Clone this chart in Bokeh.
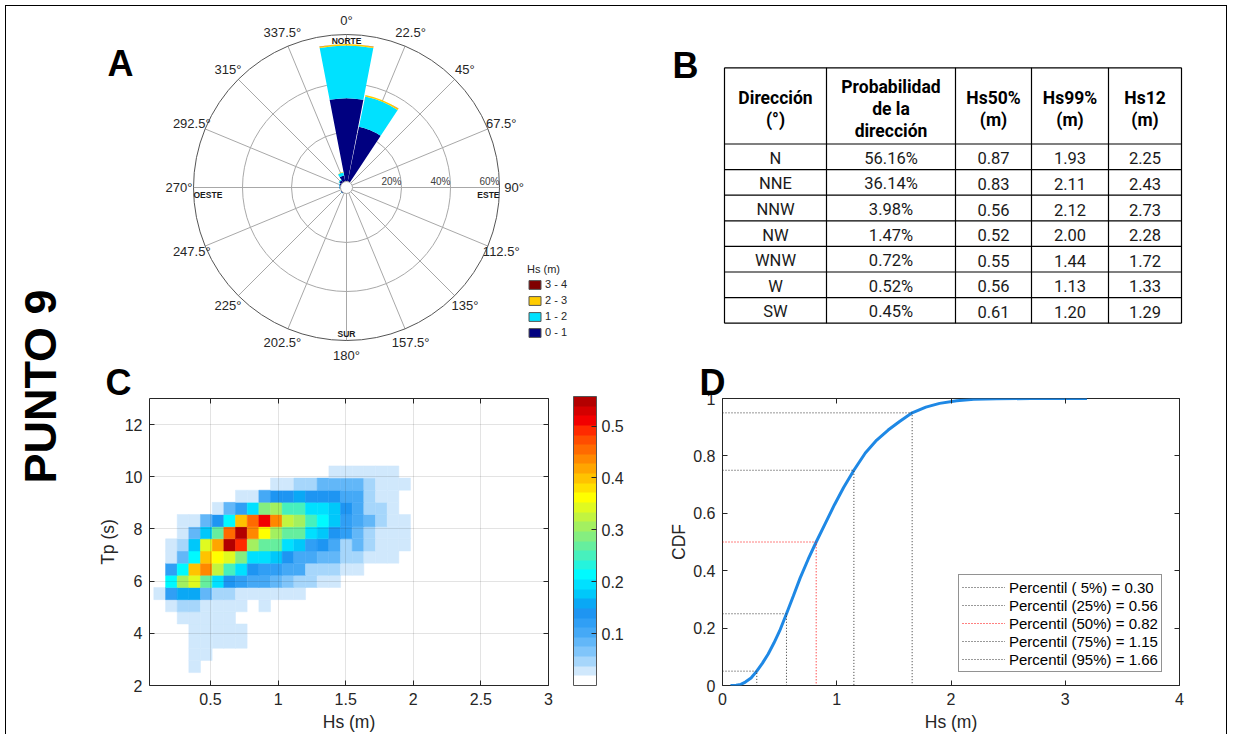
import math
from bokeh.plotting import figure
from bokeh.models import (Range1d, LinearAxis, ColorBar, LinearColorMapper, FixedTicker,
                          PrintfTickFormatter, Legend, LegendItem, Label, ColumnDataSource)
from bokeh.layouts import row, column
from bokeh.embed import file_html
from bokeh.resources import INLINE
from bokeh.core.properties import value

MFONT = "Liberation Sans"
TFONT = "Roboto"
INK = "#262626"

# ------------------------------------------------------------------ data
# A: wave rose, % of time per direction and Hs class
rose_dirs = ["N", "NNE", "NNW", "NW", "WNW", "W", "SW"]
rose_deg = [0.0, 22.5, 337.5, 315.0, 292.5, 270.0, 225.0]
rose_bins = ["0 - 1", "1 - 2", "2 - 3", "3 - 4"]
rose_hs_0_1 = [34.0, 22.9, 2.60, 1.10, 0.55, 0.40, 0.33]
rose_hs_1_2 = [21.5, 12.6, 1.25, 0.35, 0.17, 0.12, 0.12]
rose_hs_2_3 = [0.60, 0.60, 0.12, 0.02, 0.0, 0.0, 0.0]
rose_hs_3_4 = [0.06, 0.04, 0.01, 0.0, 0.0, 0.0, 0.0]
rose_bin_colors = ["#000080", "#00E1FF", "#FFCC00", "#800000"]
rose_rings = [20, 40, 60]
rose_ring_labels = ["20%", "40%", "60%"]
rose_tick_deg = [0, 22.5, 45, 67.5, 90, 112.5, 135, 157.5, 180, 202.5, 225, 247.5, 270, 292.5, 315, 337.5]
rose_tick_labels = ["0°", "22.5°", "45°", "67.5°", "90°", "112.5°", "135°", "157.5°", "180°",
                    "202.5°", "225°", "247.5°", "270°", "292.5°", "315°", "337.5°"]
rose_cardinals = ["NORTE", "ESTE", "SUR", "OESTE"]

# B: table
tbl_header = [["Dirección", "(°)"], ["Probabilidad", "de la", "dirección"],
              ["Hs50%", "(m)"], ["Hs99%", "(m)"], ["Hs12", "(m)"]]
tbl_dir = ["N", "NNE", "NNW", "NW", "WNW", "W", "SW"]
tbl_prob = [56.16, 36.14, 3.98, 1.47, 0.72, 0.52, 0.45]
tbl_hs50 = [0.87, 0.83, 0.56, 0.52, 0.55, 0.56, 0.61]
tbl_hs99 = [1.93, 2.11, 2.12, 2.00, 1.44, 1.13, 1.20]
tbl_hs12 = [2.25, 2.43, 2.73, 2.28, 1.72, 1.33, 1.29]

# C: joint Hs-Tp probability (%)
hm_hs = [0.124, 0.211, 0.297, 0.383, 0.469, 0.556, 0.642, 0.728, 0.815, 0.901, 0.987,
         1.073, 1.160, 1.246, 1.332, 1.419, 1.505, 1.591, 1.677, 1.764, 1.850, 1.936]
hm_tp = [2.728, 3.194, 3.660, 4.126, 4.592, 5.058, 5.524, 5.990, 6.456, 6.922, 7.388,
         7.854, 8.320, 8.786, 9.252, 9.718, 10.184]
hm_dhs = 0.0863
hm_dtp = 0.466
hm_prob = [
    [0, 0, 0, .028, 0, 0, 0, 0, 0, 0, 0, 0, 0, 0, 0, 0, 0, 0, 0, 0, 0, 0],
    [0, 0, 0, .028, .028, 0, 0, 0, 0, 0, 0, 0, 0, 0, 0, 0, 0, 0, 0, 0, 0, 0],
    [0, 0, 0, .028, .028, .028, .028, .028, 0, 0, 0, 0, 0, 0, 0, 0, 0, 0, 0, 0, 0, 0],
    [0, 0, 0, .028, .028, .028, .028, .028, 0, 0, 0, 0, 0, 0, 0, 0, 0, 0, 0, 0, 0, 0],
    [0, 0, .028, .028, .028, .028, .028, 0, 0, 0, 0, 0, 0, 0, 0, 0, 0, 0, 0, 0, 0, 0],
    [0, .028, .046, .046, .028, .028, .028, .028, 0, .028, 0, 0, 0, 0, 0, 0, 0, 0, 0, 0, 0, 0],
    [.028, .121, .158, .158, .084, .046, .046, .028, .028, .028, .028, .028, .028, 0, 0, 0, 0, 0, 0, 0, 0, 0],
    [0, .214, .306, .343, .269, .195, .139, .121, .102, .102, .084, .065, .046, .046, .028, .028, 0, 0, 0, 0, 0, 0],
    [0, .121, .214, .399, .436, .325, .251, .195, .139, .121, .121, .102, .102, .046, .046, .046, .028, .028, 0, 0, 0, 0],
    [0, .028, .084, .214, .399, .362, .343, .288, .195, .195, .176, .139, .102, .102, .084, .084, .046, .046, .028, .028, .028, 0],
    [0, .028, .046, .176, .343, .418, .550, .492, .306, .269, .269, .195, .176, .121, .139, .102, .046, .084, .046, .028, .028, .028],
    [0, 0, .028, .084, .176, .269, .455, .557, .436, .362, .306, .269, .269, .195, .176, .139, .121, .084, .046, .028, .028, .028],
    [0, 0, .028, .028, .084, .139, .214, .399, .455, .511, .436, .325, .306, .251, .214, .176, .121, .102, .084, .046, .028, .028],
    [0, 0, 0, 0, 0, .028, .084, .121, .195, .288, .306, .251, .251, .195, .195, .176, .139, .102, .046, .046, .028, 0],
    [0, 0, 0, 0, 0, 0, 0, .028, .028, .102, .139, .139, .158, .139, .139, .139, .102, .102, .046, .028, .028, 0],
    [0, 0, 0, 0, 0, 0, 0, 0, 0, 0, .028, .028, .046, .046, .084, .084, .084, .084, .046, .028, .028, .028],
    [0, 0, 0, 0, 0, 0, 0, 0, 0, 0, 0, 0, 0, 0, 0, .028, .028, .028, .028, .028, .028, 0],
]
hm_max = 0.557
hm_palette = ["#FFFFFF", "#D0E8FC", "#A6D6FB", "#80C5FA", "#62B7F8", "#45A9F6", "#309FF5",
              "#1E95F2", "#0AA8F5", "#00C8FA", "#00E0FF", "#00FAFF", "#25F4DD", "#47F0BD",
              "#66EE9E", "#85EE80", "#A3F060", "#C2F440", "#E0FA20", "#FFFF00", "#FFE000",
              "#FFC300", "#FFA500", "#FF8800", "#FF6A00", "#FF4D00", "#FF2A00", "#F20000",
              "#D40000", "#B30000"]
hm_cb_ticks = [0.1, 0.2, 0.3, 0.4, 0.5]

# D: empirical CDF of Hs
cdf_hs = [0.07, 0.12, 0.16, 0.20, 0.25, 0.30, 0.35, 0.40, 0.45, 0.50, 0.56, 0.62, 0.68, 0.75,
          0.82, 0.90, 0.98, 1.06, 1.15, 1.25, 1.35, 1.45, 1.55, 1.66, 1.78, 1.90, 2.05, 2.20,
          2.40, 2.70, 3.00, 3.19]
cdf_f = [0.0, 0.001, 0.004, 0.012, 0.026, 0.05, 0.078, 0.11, 0.148, 0.19, 0.25, 0.312, 0.375,
         0.44, 0.50, 0.565, 0.63, 0.69, 0.75, 0.81, 0.855, 0.89, 0.92, 0.95, 0.97, 0.983, 0.992,
         0.997, 0.999, 1.0, 1.0, 1.0]
pct_levels = [5, 25, 50, 75, 95]
pct_hs = [0.30, 0.56, 0.82, 1.15, 1.66]
pct_colors = ["#333333", "#333333", "#FF0000", "#333333", "#333333"]

# ------------------------------------------------------------------ helpers
def bare(p):
    p.grid.visible = False
    p.outline_line_color = None
    p.background_fill_color = "white"
    p.border_fill_color = "white"


def style_axis(ax, ticks, label_fs="16px", hide=False):
    ax.ticker = FixedTicker(ticks=ticks)
    ax.formatter = PrintfTickFormatter(format="%g")
    ax.major_tick_in = 5
    ax.major_tick_out = 0
    ax.minor_tick_line_color = None
    ax.axis_line_color = None
    ax.major_tick_line_color = INK
    ax.major_label_text_font = MFONT
    ax.major_label_text_color = INK
    ax.major_label_standoff = 7
    ax.axis_label_text_font = MFONT
    ax.axis_label_text_font_style = "normal"
    ax.axis_label_text_font_size = "17.5px"
    ax.axis_label_text_color = INK
    ax.axis_label_standoff = 4
    if hide:
        ax.major_label_text_font_size = "1px"
        ax.major_label_text_color = None
        ax.major_label_standoff = 0
    else:
        ax.major_label_text_font_size = label_fs


def panel_letter(p, text, x, y):
    p.add_layout(Label(x=x, y=y, x_units="screen", y_units="screen", text=text,
                       text_font=MFONT, text_font_size="36px", text_font_style="bold",
                       text_color="black", text_align="center", text_baseline="middle"))


def outside_letter(p, text, x, y):
    # panel letter outside the plot frame: title of an empty, invisible colour bar
    p.add_layout(ColorBar(color_mapper=LinearColorMapper(palette=["#ffffff"], low=0, high=1),
                          orientation="horizontal",
                          ticker=FixedTicker(ticks=[]), width=1, height=1, location=(x, y),
                          margin=0, padding=0, scale_alpha=0, bar_line_color=None,
                          border_line_color=None, background_fill_alpha=0,
                          major_tick_line_color=None, minor_tick_line_color=None,
                          major_label_text_font_size="1px", major_label_text_color=None,
                          title=text, title_text_font=MFONT, title_text_font_size="36px",
                          title_text_font_style="bold", title_text_color="black",
                          title_standoff=0))

# ------------------------------------------------------------------ side strip
S_W, TOP_H, BOT_H = 74, 355, 373
strip = figure(width=S_W, height=TOP_H + BOT_H, x_range=Range1d(0, S_W),
               y_range=Range1d(0, TOP_H + BOT_H),
               x_axis_location=None, y_axis_location=None, min_border=0,
               toolbar_location=None, output_backend="svg")
bare(strip)
strip.add_layout(Label(x=34, y=348, x_units="screen", y_units="screen", text="PUNTO 9",
                       angle=math.pi / 2, text_font=MFONT, text_font_size="45px",
                       text_font_style="bold", text_color="black",
                       text_align="center", text_baseline="middle"))

# ------------------------------------------------------------------ A: rose
PX = 2.45            # px per percent
R0 = 6 / PX          # centre hole
A_W, A_H = 580, TOP_H
A_CX, A_CY = 266, 181
pa = figure(width=A_W, height=A_H,
            x_range=Range1d(-A_CX / PX, (A_W - A_CX) / PX),
            y_range=Range1d(-(A_H - A_CY) / PX, A_CY / PX),
            x_axis_location=None, y_axis_location=None, min_border=0,
            toolbar_location=None, output_backend="svg")
bare(pa)
r_out = R0 + rose_rings[-1]
th = [math.radians(d) for d in rose_tick_deg]
pa.segment(x0=[R0 * math.sin(t) for t in th], y0=[R0 * math.cos(t) for t in th],
           x1=[r_out * math.sin(t) for t in th], y1=[r_out * math.cos(t) for t in th],
           line_color="#a8a8a8", line_width=1)
pa.circle(x=[0, 0], y=[0, 0], radius=[R0 + r for r in rose_rings[:-1]],
          fill_color=None, line_color="#a8a8a8", line_width=1)
pa.circle(x=[0], y=[0], radius=[r_out], fill_color=None, line_color="#555555", line_width=1)

HW = 10.9
cum = [0.0] * len(rose_dirs)
for b, vals in enumerate([rose_hs_0_1, rose_hs_1_2, rose_hs_2_3, rose_hs_3_4]):
    src = dict(x=[], y=[], ir=[], orr=[], sa=[], ea=[])
    for i, v in enumerate(vals):
        if v > 0:
            src["x"].append(0); src["y"].append(0)
            src["ir"].append(R0 + cum[i]); src["orr"].append(R0 + cum[i] + v)
            src["sa"].append(math.radians(90 - rose_deg[i] - HW))
            src["ea"].append(math.radians(90 - rose_deg[i] + HW))
        cum[i] += v
    pa.annular_wedge(x="x", y="y", inner_radius="ir", outer_radius="orr",
                     start_angle="sa", end_angle="ea", source=ColumnDataSource(src),
                     fill_color=rose_bin_colors[b], line_color=None)

# legend proxies (zero-size, hidden under the centre hole)
leg_items = []
for b in reversed(range(4)):
    rr = pa.rect(x=[0], y=[0], width=[0], height=[0], fill_color=rose_bin_colors[b],
                 line_color="#555555", line_width=1)
    leg_items.append(LegendItem(label=rose_bins[b], renderers=[rr]))
pa.circle(x=[0], y=[0], radius=[R0], fill_color="white", line_color="#a8a8a8", line_width=1)

r_lab = 167.5 / PX
pa.text(x=[r_lab * math.sin(t) for t in th], y=[r_lab * math.cos(t) for t in th],
        text=rose_tick_labels, text_font=value(MFONT), text_font_size="13px",
        text_color=INK, text_align="center", text_baseline="middle")
pa.text(x=[R0 + r for r in rose_rings], y=[0, 0, 0], text=rose_ring_labels,
        text_font=value(MFONT), text_font_size="10px", text_color="#404040",
        text_align="right", text_baseline="bottom", y_offset=-1)
card_x = [0, r_out, 0, -r_out]
card_y = [r_out, 0, -r_out, 0]
card_al = ["center", "right", "center", "left"]
card_bl = ["top", "top", "bottom", "top"]
card_off = [1, 2, -2, 2]
for t, cx, cy, al, bl, off in zip(rose_cardinals, card_x, card_y, card_al, card_bl, card_off):
    pa.text(x=[cx], y=[cy], text=[t], text_font=value(MFONT), text_font_size="8.5px",
            text_font_style="bold", text_color="#1a1a1a", text_align=al,
            text_baseline=bl, y_offset=off)

leg_a = Legend(items=leg_items, location=(447, 23), title="Hs (m)",
               title_text_font=MFONT, title_text_font_size="11px",
               title_text_font_style="normal", title_text_color=INK, title_standoff=3,
               label_text_font=MFONT, label_text_font_size="11px", label_text_color=INK,
               glyph_width=15, glyph_height=11, label_height=11, label_standoff=3,
               spacing=4, padding=0, margin=0, border_line_color=None,
               background_fill_alpha=0)
pa.add_layout(leg_a)
panel_letter(pa, "A", 40, 298)

# ------------------------------------------------------------------ B: table
B_W, B_H = 566, TOP_H
pb = figure(width=B_W, height=B_H, x_range=Range1d(0, B_W), y_range=Range1d(B_H, 0),
            x_axis_location=None, y_axis_location=None, min_border=0,
            toolbar_location=None, output_backend="svg")
bare(pb)
col_edges = [64, 166, 295, 371, 448, 521]
head_top, head_bot, row_h = 61.3, 137.5, 25.6
n_rows = len(tbl_dir)
row_edges = [head_top, head_bot] + [head_bot + row_h * (i + 1) for i in range(n_rows)]
pb.segment(x0=[col_edges[0]] * len(row_edges), x1=[col_edges[-1]] * len(row_edges),
           y0=row_edges, y1=row_edges, line_color="black", line_width=1.2)
pb.segment(x0=col_edges, x1=col_edges, y0=[row_edges[0]] * len(col_edges),
           y1=[row_edges[-1]] * len(col_edges), line_color="black", line_width=1.2)
col_mid = [(col_edges[i] + col_edges[i + 1]) / 2 for i in range(len(col_edges) - 1)]
hx, hy, ht = [], [], []
hc = (head_top + head_bot) / 2 + 3
for ci, lines in enumerate(tbl_header):
    n = len(lines)
    sp = 22.5 if n == 2 else 21.7
    for li, s in enumerate(lines):
        hx.append(col_mid[ci]); hy.append(hc + (li - (n - 1) / 2) * sp); ht.append(s)
pb.text(x=hx, y=hy, text=ht, text_font=value(TFONT), text_font_size="17.5px",
        text_font_style="bold", text_color="black", text_align="center",
        text_baseline="middle")
cells = [tbl_dir, [f"{v:.2f}%" for v in tbl_prob], [f"{v:.2f}" for v in tbl_hs50],
         [f"{v:.2f}" for v in tbl_hs99], [f"{v:.2f}" for v in tbl_hs12]]
bx, by, bt = [], [], []
for ci, colvals in enumerate(cells):
    for ri, s in enumerate(colvals):
        bx.append(col_mid[ci]); by.append(head_bot + row_h * (ri + 0.5) + 1.5); bt.append(s)
pb.text(x=bx, y=by, text=bt, text_font=value(TFONT), text_font_size="16.5px",
        text_color="#1a1a1a", text_align="center", text_baseline="middle")
panel_letter(pb, "B", 25, 296)

# ------------------------------------------------------------------ C: heatmap
pc = figure(width=580, height=BOT_H, x_range=Range1d(0.049, 3.0), y_range=Range1d(2, 13),
            min_border_left=69, min_border_right=112, min_border_top=37, min_border_bottom=47,
            toolbar_location=None, output_backend="svg")
pc.background_fill_color = "white"
pc.outline_line_color = INK
mapper = LinearColorMapper(palette=hm_palette, low=0, high=hm_max)
hx_, hy_, hv_ = [], [], []
for j, tp in enumerate(hm_tp):
    for k, hs in enumerate(hm_hs):
        v = hm_prob[j][k]
        if v > 0:
            hx_.append(hs); hy_.append(tp); hv_.append(v)
pc.rect(x="x", y="y", width=hm_dhs, height=hm_dtp,
        source=ColumnDataSource(dict(x=hx_, y=hy_, v=hv_)),
        fill_color={"field": "v", "transform": mapper},
        line_color={"field": "v", "transform": mapper}, line_width=0.5)
style_axis(pc.xaxis[0], [0.5, 1, 1.5, 2, 2.5, 3])
style_axis(pc.yaxis[0], [2, 4, 6, 8, 10, 12])
pc.xaxis.axis_label = "Hs (m)"
pc.yaxis.axis_label = "Tp (s)"
pc.xgrid.ticker = FixedTicker(ticks=[0.5, 1, 1.5, 2, 2.5, 3])
pc.ygrid.ticker = FixedTicker(ticks=[2, 4, 6, 8, 10, 12])
pc.grid.grid_line_color = INK
pc.grid.grid_line_alpha = 0.13
pc.grid.level = "overlay"
ax_t = LinearAxis(); style_axis(ax_t, [0.5, 1, 1.5, 2, 2.5, 3], hide=True)
ax_r = LinearAxis(); style_axis(ax_r, [2, 4, 6, 8, 10, 12], hide=True)
pc.add_layout(ax_t, "above")
pc.add_layout(ax_r, "right")
cb = ColorBar(color_mapper=mapper, ticker=FixedTicker(ticks=hm_cb_ticks),
              formatter=PrintfTickFormatter(format="%g"), width=23, height=289,
              location=(424, 0), margin=0, padding=0,
              major_tick_in=5, major_tick_out=0, major_tick_line_color=INK,
              minor_tick_line_color=None, bar_line_color="#555555",
              major_label_text_font=MFONT, major_label_text_font_size="16px",
              major_label_text_color=INK, label_standoff=5, border_line_color=None,
              background_fill_alpha=0)
pc.add_layout(cb)
outside_letter(pc, "C", -44, 282)

# ------------------------------------------------------------------ D: CDF
pd = figure(width=566, height=BOT_H, x_range=Range1d(0, 4), y_range=Range1d(0, 1),
            min_border_left=62, min_border_right=47, min_border_top=37, min_border_bottom=48,
            toolbar_location=None, output_backend="svg")
pd.background_fill_color = "white"
pd.outline_line_color = INK
pd.grid.visible = False
style_axis(pd.xaxis[0], [0, 1, 2, 3, 4])
style_axis(pd.yaxis[0], [0, 0.2, 0.4, 0.6, 0.8, 1])
pd.xaxis.axis_label = "Hs (m)"
pd.yaxis.axis_label = "CDF"
pd.yaxis.axis_label_standoff = 1
ax_t2 = LinearAxis(); style_axis(ax_t2, [0, 1, 2, 3, 4], hide=True)
ax_r2 = LinearAxis(); style_axis(ax_r2, [0, 0.2, 0.4, 0.6, 0.8, 1], hide=True)
pd.add_layout(ax_t2, "above")
pd.add_layout(ax_r2, "right")
pd.line(cdf_hs, cdf_f, line_color="#1E88E5", line_width=3)
d_items = []
for lev, xv, col in zip(pct_levels, pct_hs, pct_colors):
    f = lev / 100
    r = pd.multi_line(xs=[[0, xv, xv]], ys=[[f, f, 0]], line_color=col, line_width=1,
                      line_dash="1 2")
    d_items.append(LegendItem(label=f"Percentil ({lev:2d}%) = {xv:.2f}", renderers=[r]))
leg_d = Legend(items=d_items, location=(236, 13), label_text_font=MFONT,
               label_text_font_size="15px", label_text_color="black",
               glyph_width=43, glyph_height=18, label_height=18, label_standoff=4,
               spacing=0, padding=3, margin=0, border_line_color=INK,
               border_line_width=1, background_fill_color="white", background_fill_alpha=1)
pd.add_layout(leg_d)
outside_letter(pd, "D", -23, 282)

layout = row(strip, column(row(pa, pb), row(pc, pd)),
             styles={"margin": "5px 0 0 5px", "border-top": "1px solid black",
                     "border-left": "1px solid black", "border-right": "1px solid black"})
open("out.html", "w").write(file_html(layout, INLINE, title="PUNTO 9"))
